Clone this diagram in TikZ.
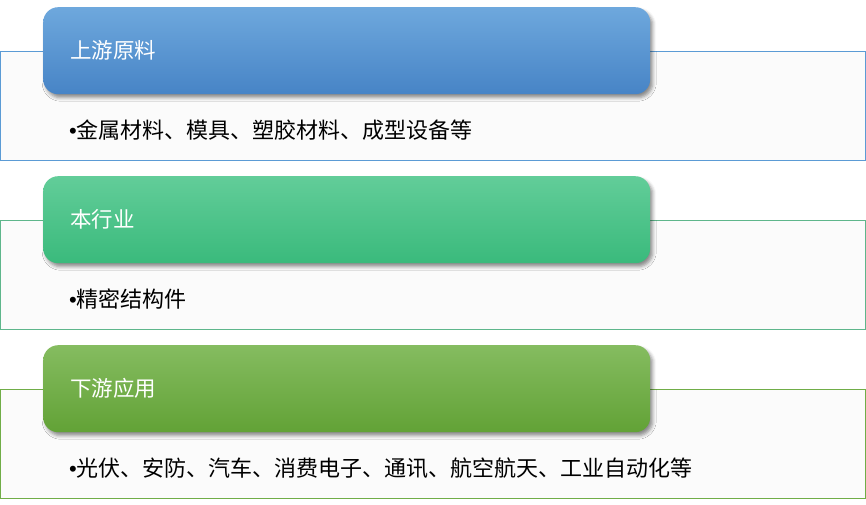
\documentclass[tikz,border=0pt]{standalone}
\usepackage{fontspec}
\setmainfont{Noto Sans CJK SC}
\newfontfamily\bulletfont{Liberation Sans}
\usetikzlibrary{shadows.blur}

\definecolor{lineblue}{HTML}{5B9BD5}
\definecolor{topblue}{HTML}{6EA8DD}
\definecolor{botblue}{HTML}{4784C6}
\definecolor{linegreen}{HTML}{5EB68B}
\definecolor{topgreen}{HTML}{62CD99}
\definecolor{botgreen}{HTML}{3ABA7C}
\definecolor{lineolive}{HTML}{70AD47}
\definecolor{topolive}{HTML}{85BC60}
\definecolor{botolive}{HTML}{62A236}
\definecolor{panelfill}{HTML}{FBFBFB}

\begin{document}
\begin{tikzpicture}[
  x=1pt, y=-1pt,  % pixel grid of the layout
  frame/.style={draw, line width=1pt, fill=panelfill, inner sep=0pt,
    minimum width=865pt, minimum height=109pt, anchor=north west},
  header/.style={rounded corners=15pt, inner sep=0pt,
    minimum width=607pt, minimum height=87pt, anchor=north west,
    blur shadow={shadow xshift=2.5pt, shadow yshift=-3.5pt,
      shadow blur radius=3.5pt, shadow opacity=45}},
  title/.style={text=white, inner sep=0pt, anchor=west,
    font=\fontsize{21.5}{24}\selectfont},
  item/.style={text=black, inner sep=0pt, anchor=west,
    font=\fontsize{22}{24}\selectfont}
]
\useasboundingbox (0,0) rectangle (866,505);

% ---------------- Three stacked panels ----------------
\foreach \i/\top/\c/\title/\items in {
  1/0/blue/上游原料/{金属材料、模具、塑胶材料、成型设备等},
  2/169/green/本行业/{精密结构件},
  3/338/olive/下游应用/{光伏、安防、汽车、消费电子、通讯、航空航天、工业自动化等}} {
  % outline box behind the header
  \node[frame, draw=line\c] (box\i) at (0,51+\top) {};
  % shaded header tab
  \node[header, top color=top\c, bottom color=bot\c] (head\i) at (43,7+\top) {};
  \node[title] (title\i) at ([xshift=27pt]head\i.west) {\title};
  % bullet line
  \node[item] (item\i) at (69,130+\top) {{\bulletfont •}\items};
}

\end{tikzpicture}
\end{document}
